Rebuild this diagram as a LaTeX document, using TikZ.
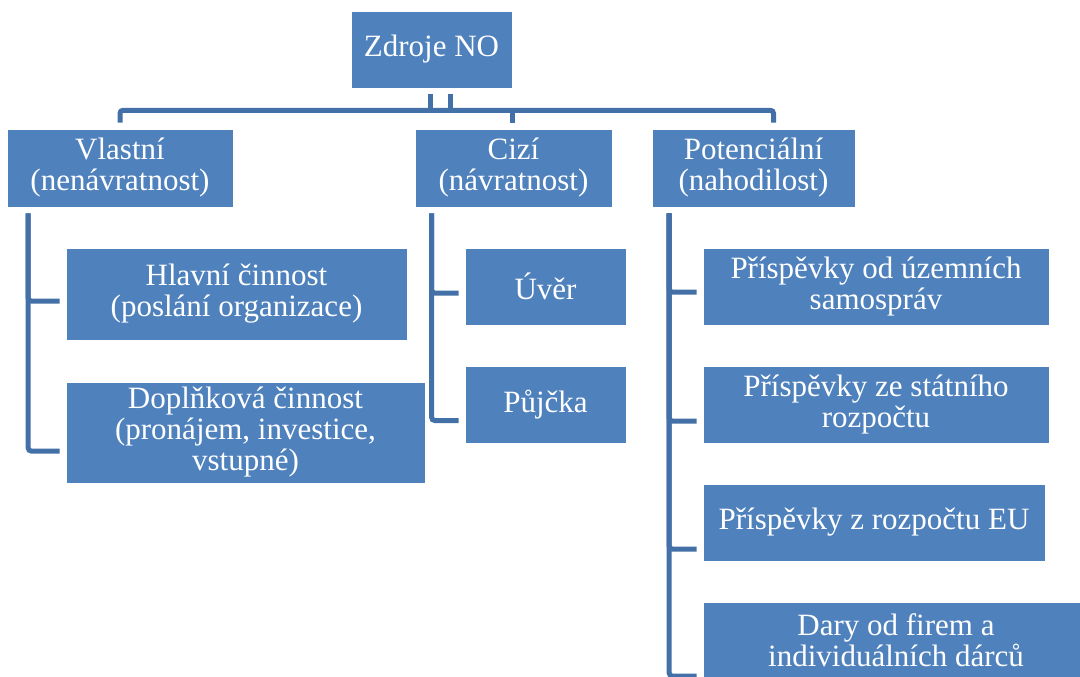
\documentclass[tikz,border=0pt]{standalone}
\usepackage{fontspec}
\setmainfont{Liberation Serif}
\definecolor{boxblue}{HTML}{4F81BD}
\definecolor{lineblue}{HTML}{4470A8}
\tikzset{
  box/.style={fill=boxblue,draw=white,line width=0.6pt,text=white,align=center,
    inner sep=0pt,font=\fontsize{31pt}{31pt}\selectfont},
  link/.style={draw=lineblue,line width=5pt,rounded corners=3pt}
}
\begin{document}
\begin{tikzpicture}[x=1pt,y=1pt]
\useasboundingbox (0,0) rectangle (1080,-677);
\clip (0,0) rectangle (1080,-677);
% top level
\node[box,minimum width=161pt,minimum height=77pt] (root) at (431.5,-49.5) {Zdroje NO};
\node[box,minimum width=226pt,minimum height=78pt] (vlastni) at (120,-168) {Vlastní\\(nenávratnost)};
\node[box,minimum width=197pt,minimum height=78pt] (cizi) at (513.5,-168) {Cizí\\(návratnost)};
\node[box,minimum width=203pt,minimum height=78pt] (potenc) at (753.5,-168) {Potenciální\\(nahodilost)};
% children
\node[box,minimum width=341pt,minimum height=92pt] (hlavni) at (236.5,-294) {Hlavní činnost\\(poslání organizace)};
\node[box,minimum width=359pt,minimum height=101pt] (doplnk) at (245.5,-432.5) {Doplňková činnost\\(pronájem, investice,\\vstupné)};
\node[box,minimum width=161pt,minimum height=77pt] (uver) at (545.5,-286.5) {Úvěr};
\node[box,minimum width=161pt,minimum height=77pt] (pujcka) at (545.5,-404.5) {Půjčka};
\node[box,minimum width=346pt,minimum height=77pt] (prisp1) at (876,-286.5) {Příspěvky od územních\\samospráv};
\node[box,minimum width=346pt,minimum height=77pt] (prisp2) at (876,-404.5) {Příspěvky ze státního\\rozpočtu};
\node[box,minimum width=342pt,minimum height=77pt] (prisp3) at (874,-522.5) {Příspěvky z rozpočtu EU};
\node[box,minimum width=386pt,minimum height=77pt] (dary) at (896,-640.5) {Dary od firem a\\individuálních dárců};
% connectors
\coordinate (bar) at ([yshift=-22pt]root.south);
\draw[link] ([xshift=-1pt,yshift=-6pt]root.south) -- ([xshift=-1pt]bar);
\draw[link] ([xshift=19pt,yshift=-6pt]root.south) -- ([xshift=19pt]bar);
\draw[link] ([yshift=6pt]vlastni.north) |- (bar) -| ([xshift=20pt,yshift=6pt]potenc.north);
\draw[link] ([xshift=-1pt,yshift=6pt]cizi.north) -- ([xshift=-1pt]cizi.north |- bar);
\coordinate (lv) at ([xshift=21.5pt,yshift=-6pt]vlastni.south west);
\coordinate (cv) at ([xshift=17pt,yshift=-6pt]cizi.south west);
\coordinate (pv) at ([xshift=17.5pt,yshift=-6pt]potenc.south west);
\draw[link] ([xshift=-6pt,yshift=-7pt]hlavni.west) -| (lv);
\draw[link] ([xshift=-6pt,yshift=-18.5pt]doplnk.west) -| (lv);
\draw[link] ([xshift=-6pt,yshift=-6.5pt]uver.west) -| (cv);
\draw[link] ([xshift=-6pt,yshift=-16pt]pujcka.west) -| (cv);
\draw[link] ([xshift=-6pt,yshift=-5.5pt]prisp1.west) -| (pv);
\draw[link] ([xshift=-6pt,yshift=-16.5pt]prisp2.west) -| (pv);
\draw[link] ([xshift=-6pt,yshift=-26.5pt]prisp3.west) -| (pv);
\draw[link] ([xshift=-6pt,yshift=-35.5pt]dary.west) -| (pv);
\end{tikzpicture}
\end{document}
